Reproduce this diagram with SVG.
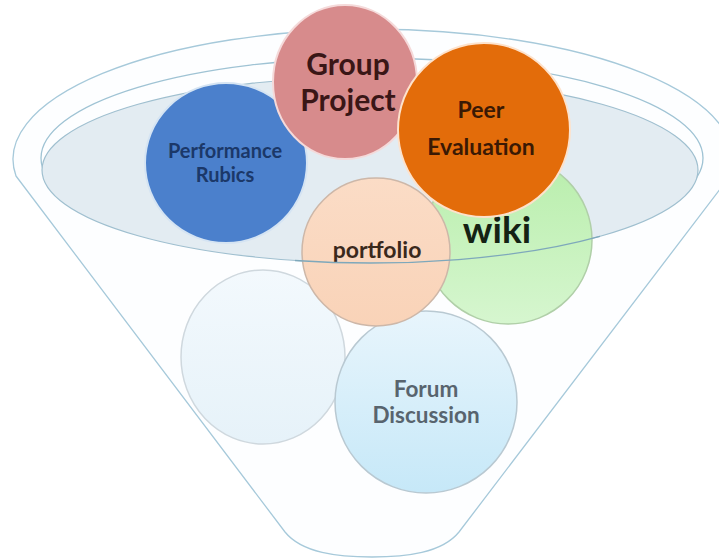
<svg xmlns="http://www.w3.org/2000/svg" width="719" height="559" viewBox="0 0 719 559">
<defs>
<style>
text{font-family:Lato,"Open Sans","Liberation Sans",sans-serif;font-weight:700;text-anchor:middle}
.rim{fill:none;stroke:#9fc3d4;stroke-width:1.3}
</style>
<linearGradient id="gWiki" x1="0" y1="0" x2="0" y2="1"><stop offset="0" stop-color="#b8eeab"/><stop offset="1" stop-color="#d6f6cf"/></linearGradient>
<linearGradient id="gForum" x1="0" y1="0" x2="0" y2="1"><stop offset="0" stop-color="#e8f5fc"/><stop offset="1" stop-color="#c6e8f8"/></linearGradient>
<linearGradient id="gBlank" x1="0" y1="0" x2="0" y2="1"><stop offset="0" stop-color="#f3f9fd"/><stop offset="1" stop-color="#e6f2f9"/></linearGradient>
<linearGradient id="gPort" x1="0" y1="0" x2="0" y2="1"><stop offset="0" stop-color="#fbdcc6"/><stop offset="1" stop-color="#f9d3b8"/></linearGradient>
</defs>
<rect width="719" height="559" fill="#ffffff"/>
<g id="funnel">
<path d="M16,176 L285,532 C302,553 338,557 372,557 C406,557 442,553 459,532 L730,176 A360 130 0 1 0 16 176 Z" fill="#fdfeff" stroke="#a6c9da" stroke-width="1.3"/>
<ellipse cx="372" cy="158" rx="331" ry="100" class="rim"/>
<ellipse cx="370" cy="170" rx="328" ry="93" fill="#e3ecf2" stroke="#9fbfcf" stroke-width="1.2"/>
</g>
<g id="blank"><ellipse cx="263" cy="357" rx="82" ry="87" fill="url(#gBlank)" stroke="#cfd8de" stroke-width="1.5"/></g>
<g id="forum"><ellipse cx="426" cy="402" rx="91" ry="91" fill="url(#gForum)" stroke="#b9c9d2" stroke-width="1.5"/>
<text x="426" y="397" font-size="22.5" fill="#58646e">Forum</text>
<text x="426" y="423" font-size="22.5" fill="#58646e">Discussion</text></g>
<g id="performance"><ellipse cx="226" cy="163" rx="81" ry="80" fill="#4b80cc" stroke="#d5e4f3" stroke-width="2"/>
<text x="225" y="158" font-size="20" fill="#1b3869">Performance</text>
<text x="225" y="182" font-size="20" fill="#1b3869">Rubics</text></g>
<g id="group"><ellipse cx="345" cy="82" rx="72" ry="77" fill="#d78b8c" stroke="#f5dada" stroke-width="2"/>
<text x="348" y="75" font-size="30" fill="#3a1616">Group</text>
<text x="348" y="111" font-size="30" fill="#3a1616">Project</text></g>
<g id="wiki"><ellipse cx="508" cy="240" rx="84" ry="84" fill="url(#gWiki)" stroke="#b0cfa8" stroke-width="1.5"/>
<text x="497" y="243" font-size="37" fill="#142214">wiki</text></g>
<g id="portfolio"><ellipse cx="376" cy="252" rx="74" ry="74" fill="url(#gPort)" stroke="#cdb7a8" stroke-width="1.5"/>
<text x="377" y="258" font-size="23" fill="#3a291c">portfolio</text></g>
<g id="peer"><ellipse cx="484" cy="130" rx="86" ry="87" fill="#e36c0a" stroke="#fde2cc" stroke-width="2"/>
<text x="481" y="118" font-size="23" fill="#3a1904">Peer</text>
<text x="481" y="155" font-size="23" fill="#3a1904">Evaluation</text></g>
<g id="connectors">
<path d="M295,260.5 A328 93 0 0 0 600,236.3" fill="none" stroke="#7ea8bb" stroke-width="1.3"/>
</g>
</svg>
